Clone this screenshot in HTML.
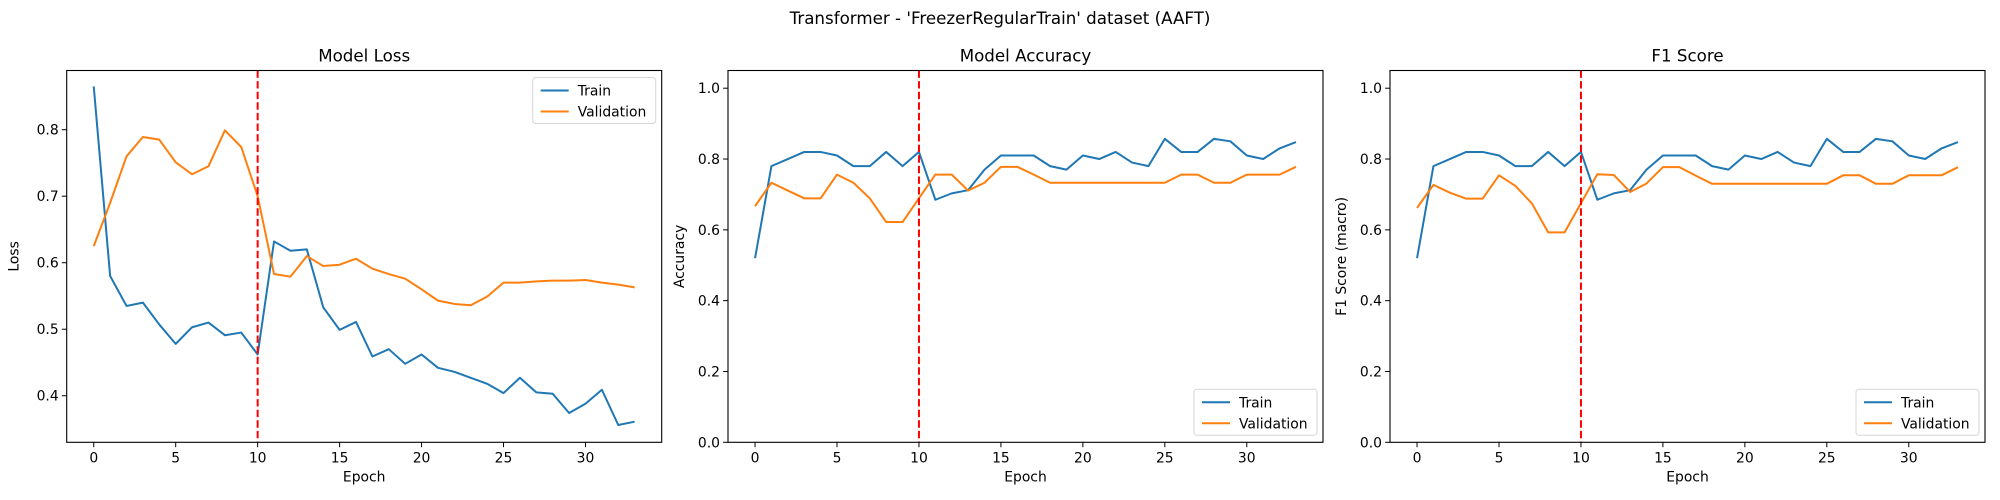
<!DOCTYPE html>
<html><head><meta charset="utf-8"><style>
body{margin:0;background:#fff;}
svg{display:block;font-family:"DejaVu Sans","Liberation Sans",sans-serif;}
</style></head><body>
<svg id="fig" width="2000" height="500" viewBox="0 0 2000 500">
<text x="1000" y="24" text-anchor="middle" font-size="16.7" fill="#000">Transformer - 'FreezerRegularTrain' dataset (AAFT)</text>
</svg>
<script>
const epochs = Array.from({length:34},(_,i)=>i);
const lossTrain = [0.865,0.58,0.535,0.54,0.507,0.478,0.503,0.51,0.491,0.495,0.462,0.632,0.618,0.62,0.533,0.499,0.511,0.459,0.47,0.448,0.462,0.442,0.436,0.427,0.418,0.404,0.427,0.405,0.403,0.374,0.388,0.409,0.356,0.361];
const lossVal = [0.625,0.69,0.76,0.789,0.785,0.751,0.733,0.745,0.799,0.774,0.7,0.583,0.579,0.61,0.595,0.597,0.606,0.591,0.583,0.576,0.56,0.543,0.538,0.536,0.549,0.57,0.57,0.572,0.573,0.573,0.574,0.57,0.567,0.563];
const accTrain = [0.52,0.78,0.80,0.82,0.82,0.81,0.78,0.78,0.82,0.78,0.82,0.685,0.703,0.712,0.77,0.81,0.81,0.81,0.78,0.77,0.81,0.80,0.82,0.79,0.78,0.857,0.82,0.82,0.857,0.85,0.81,0.80,0.83,0.848];
const accVal = [0.667,0.733,0.711,0.689,0.689,0.756,0.733,0.689,0.622,0.622,0.689,0.756,0.756,0.711,0.733,0.778,0.778,0.756,0.733,0.733,0.733,0.733,0.733,0.733,0.733,0.733,0.756,0.756,0.733,0.733,0.756,0.756,0.756,0.778];
const f1Train = [0.52,0.78,0.80,0.82,0.82,0.81,0.78,0.78,0.82,0.78,0.82,0.685,0.703,0.712,0.77,0.81,0.81,0.81,0.78,0.77,0.81,0.80,0.82,0.79,0.78,0.857,0.82,0.82,0.857,0.85,0.81,0.80,0.83,0.848];
const f1Val = [0.662,0.727,0.705,0.688,0.688,0.754,0.724,0.675,0.593,0.593,0.675,0.757,0.755,0.707,0.731,0.777,0.777,0.753,0.73,0.73,0.73,0.73,0.73,0.73,0.73,0.73,0.754,0.754,0.73,0.73,0.754,0.754,0.754,0.777];
const xTicks = [0,5,10,15,20,25,30];
const lossTicks = [0.4,0.5,0.6,0.7,0.8];
const accTicks = [0.0,0.2,0.4,0.6,0.8,1.0];
const markerEpoch = 10;

const NS="http://www.w3.org/2000/svg";
const svg=document.getElementById('fig');
function mk(tag,attrs,parent){const e=document.createElementNS(NS,tag);for(const k in attrs)e.setAttribute(k,attrs[k]);(parent||svg).appendChild(e);return e;}

const panels=[
 {left:66.7,title:'Model Loss',ylabel:'Loss',ymin:0.330,ymax:0.889,ticks:lossTicks,fmt:v=>v.toFixed(1),train:lossTrain,val:lossVal,legend:'top',name:'loss'},
 {left:728,title:'Model Accuracy',ylabel:'Accuracy',ymin:0,ymax:1.05,ticks:accTicks,fmt:v=>v.toFixed(1),train:accTrain,val:accVal,legend:'bottom',name:'accuracy'},
 {left:1390,title:'F1 Score',ylabel:'F1 Score (macro)',ymin:0,ymax:1.05,ticks:accTicks,fmt:v=>v.toFixed(1),train:f1Train,val:f1Val,legend:'bottom',name:'f1'}
];
const axTop=70.5,axBottom=442.3,W=595;
panels.forEach(p=>{
 const g=mk('g',{});
 
 
 const xs=e=>p.left+W*(e+1.65)/(33+3.3);
 const ys=v=>axBottom-(v-p.ymin)/(p.ymax-p.ymin)*(axBottom-axTop);
 const t=mk('text',{x:p.left+W/2,y:axTop-9,'text-anchor':'middle','font-size':16.7},g);t.textContent=p.title;
 
 
 xTicks.forEach(v=>{const x=xs(v);mk('line',{x1:x,x2:x,y1:axBottom,y2:axBottom+4.9,stroke:'#000','stroke-width':1},g);
  const tt=mk('text',{x:x,y:axBottom+20,'text-anchor':'middle','font-size':13.9},g);tt.textContent=v;
  
  });
 p.ticks.forEach(v=>{const y=ys(v);mk('line',{x1:p.left-4.9,x2:p.left,y1:y,y2:y,stroke:'#000','stroke-width':1},g);
  const tt=mk('text',{x:p.left-8,y:y+5,'text-anchor':'end','font-size':13.9},g);tt.textContent=p.fmt(v);
  
  });
 const xl=mk('text',{x:p.left+W/2,y:axBottom+39,'text-anchor':'middle','font-size':13.9},g);xl.textContent='Epoch';
 
 
 const yx=p.left-(p.name==='loss'?48:44),yc=(axTop+axBottom)/2;
 const yl=mk('text',{x:yx,y:yc,'text-anchor':'middle','font-size':13.9,transform:`rotate(-90 ${yx} ${yc})`},g);yl.textContent=p.ylabel;
 
 
 const line=(arr,col,nm)=>{const l=mk('polyline',{points:arr.map((v,i)=>xs(epochs[i])+','+ys(v)).join(' '),fill:'none',stroke:col,'stroke-width':2,'stroke-linejoin':'round'},g);
  
  };
 line(p.train,'#1f77b4','train-line');
 line(p.val,'#ff7f0e','validation-line');
 const mx=xs(markerEpoch);
 const vl=mk('line',{x1:mx,x2:mx,y1:axTop,y2:axBottom,stroke:'#ff0000','stroke-width':2,'stroke-dasharray':'7.4 3.2'},g);
 
 
 mk('rect',{x:p.left,y:axTop,width:W,height:axBottom-axTop,fill:'none',stroke:'#000','stroke-width':1.1},g);
 const lw=123,lh=46,lx=p.left+W-lw-6,ly=p.legend==='top'?axTop+7:axBottom-lh-7;
 const lg=mk('g',{},g);
 
 
 mk('rect',{x:lx,y:ly,width:lw,height:lh,rx:3,fill:'#fff','fill-opacity':0.8,stroke:'#d6d6d6','stroke-width':1},lg);
 [['Train','#1f77b4'],['Validation','#ff7f0e']].forEach((e,i)=>{const y=ly+13+i*21;
  mk('line',{x1:lx+8,x2:lx+36,y1:y,y2:y,stroke:e[1],'stroke-width':2},lg);
  const tt=mk('text',{x:lx+45,y:y+5,'font-size':13.9},lg);tt.textContent=e[0];
  
  });
});
</script>
</body></html>
